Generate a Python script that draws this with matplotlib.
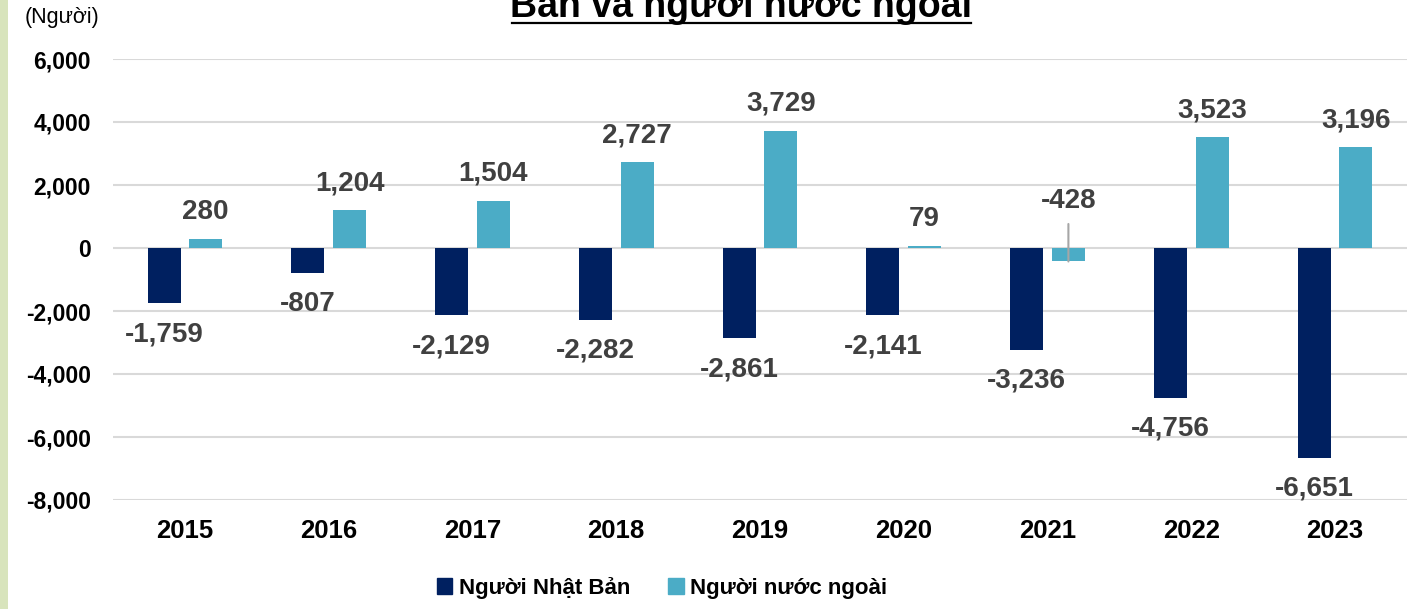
import numpy as np
import matplotlib.pyplot as plt
from matplotlib.patches import Rectangle
from matplotlib.lines import Line2D

plt.rcParams['font.family'] = ['Liberation Sans', 'DejaVu Sans']

# data
years = ['2015', '2016', '2017', '2018', '2019', '2020', '2021', '2022', '2023']
japanese = [-1759, -807, -2129, -2282, -2861, -2141, -3236, -4756, -6651]
foreign = [280, 1204, 1504, 2727, 3729, 79, -428, 3523, 3196]
series_names = ['Người Nhật Bản', 'Người nước ngoài']
yticks = [-8000, -6000, -4000, -2000, 0, 2000, 4000, 6000]

dark = '#002060'
light = '#4bacc6'
label_color = '#404040'

fig = plt.figure(figsize=(14.28, 6.09), dpi=100)
fig.patch.set_facecolor('white')

# light green strip at the left edge
fig.add_artist(Rectangle((0, 0), 8 / 1428, 1, transform=fig.transFigure,
                         facecolor='#d8e4bc', edgecolor='none'))

ax = fig.add_axes([113 / 1428, 1 - 500 / 609, 1294 / 1428, 441 / 609])

x = np.arange(len(years))
w = 0.23
off = 0.145
ax.bar(x - off, japanese, w, color=dark, zorder=3)
ax.bar(x + off, foreign, w, color=light, zorder=3)

ax.set_ylim(-8000, 6000)
ax.set_xlim(-0.5, len(years) - 0.5)
ax.set_yticks(yticks)
ax.set_yticklabels([f'{v:,}' for v in yticks], fontsize=16.5, fontweight='bold')
ax.set_xticks(x)
ax.set_xticklabels(years, fontsize=18.5, fontweight='bold')
ax.tick_params(axis='y', length=0, pad=16)
ax.tick_params(axis='x', length=0, pad=14)
for s in ax.spines.values():
    s.set_visible(False)
ax.grid(axis='y', color='#d9d9d9', linewidth=1.5, zorder=0)

# data labels
lbl = dict(ha='center', fontsize=20, fontweight='bold', color=label_color)
for xi, v in zip(x - off, japanese):
    ax.annotate(f'{v:,}', (xi, v), xytext=(0, -13), textcoords='offset points',
                va='top', **lbl)
for xi, v in zip(x + off, foreign):
    if v >= 0:
        ax.annotate(f'{v:,}', (xi, v), xytext=(0, 10), textcoords='offset points',
                    va='bottom', **lbl)
    else:
        ax.annotate(f'{v:,}', (xi, v), xytext=(0, 34), textcoords='offset points',
                    va='bottom', **lbl,
                    arrowprops=dict(arrowstyle='-', color='#a6a6a6', lw=1.5,
                                    shrinkA=5, shrinkB=0))

# unit label and (cut-off) title
fig.text(25 / 1428, 1 - 17 / 609, '(Người)', fontsize=15.5, ha='left', va='center')
fig.text(741 / 1428, 1 - 17 / 609, 'Bản và người nước ngoài', fontsize=27,
         fontweight='bold', ha='center', va='baseline')
fig.add_artist(Line2D([512 / 1428, 971 / 1428], [1 - 23 / 609, 1 - 23 / 609],
                      transform=fig.transFigure, color='black', lw=1.6))

handles = [Rectangle((0, 0), 1, 1, color=dark), Rectangle((0, 0), 1, 1, color=light)]
fig.legend(handles, series_names, loc='center', bbox_to_anchor=(662 / 1428, 1 - 588 / 609),
           ncol=2, frameon=False, prop={'size': 16, 'weight': 'bold'},
           handlelength=0.7, handleheight=0.7, handletextpad=0.3, columnspacing=1.7)

fig.savefig('out.png', dpi=100)
